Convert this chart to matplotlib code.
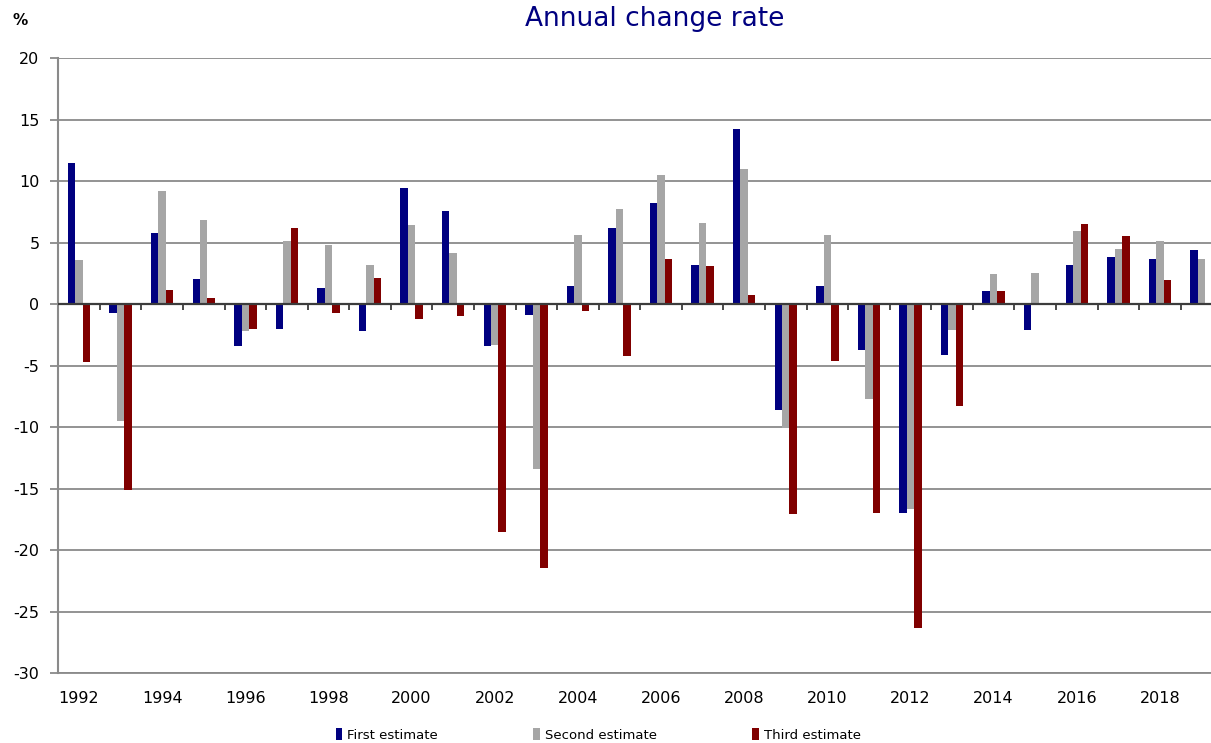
import matplotlib
matplotlib.use('Agg')
import matplotlib.pyplot as plt
import numpy as np

# valores (tasa de cambio anual, %)
years = list(range(1992, 2020))
first_est = [11.5, -0.7, 5.8, 2.05, -3.45, -2.05, 1.3, -2.2, 9.45, 7.6,
             -3.45, -0.9, 1.45, 6.2, 8.25, 3.15, 14.2, -8.6, 1.45, -3.75,
             -17.0, -4.15, 1.05, -2.1, 3.15, 3.8, 3.7, 4.4]
second_est = [3.6, -9.55, 9.15, 6.85, -2.2, 5.1, 4.8, 3.15, 6.4, 4.15,
              -3.35, -13.4, 5.6, 7.75, 10.5, 6.6, 10.95, -10.05, 5.6, -7.7,
              -16.7, -2.1, 2.45, 2.55, 5.9, 4.5, 5.1, 3.7]
third_est = [-4.75, -15.15, 1.15, 0.5, -2.0, 6.2, -0.7, 2.15, -1.2, -1.0,
             -18.5, -21.5, -0.55, -4.25, 3.65, 3.1, 0.75, -17.1, -4.65, -17.0,
             -26.35, -8.3, 1.05, 0.1, 6.5, 5.5, 1.95, 0.0]
year_labels = [str(y) for y in range(1992, 2019, 2)]

C_FIRST = '#000080'
C_SECOND = '#a6a6a6'
C_THIRD = '#800000'
GRID = '#8a8a8a'

plt.rcParams['axes.unicode_minus'] = False  # guion normal en los negativos

fig = plt.figure(figsize=(12.11, 7.43), dpi=100)
# el area del grafico se sale un poco por la derecha como en la imagen original
ax = fig.add_axes([0.0481, 0.0942, 0.9612, 0.8277])

x = np.array(years)
w = 0.18
ax.bar(x - w, first_est, w, color=C_FIRST, label='First estimate', zorder=3)
ax.bar(x, second_est, w, color=C_SECOND, label='Second estimate', zorder=3)
ax.bar(x + w, third_est, w, color=C_THIRD, label='Third estimate', zorder=3)

ax.set_xlim(years[0] - 0.5, years[-1] + 0.5)
ax.set_ylim(-30, 20)
ax.set_yticks(range(-30, 21, 5))
ax.yaxis.grid(True, color=GRID, linewidth=1.3, zorder=0)

# linea del cero con marcas entre grupos
ax.axhline(0, color='#3c3c3c', linewidth=1.6, zorder=4)
bounds = np.array(years[1:]) - 0.5
ax.vlines(bounds, -0.5, 0, color='#3c3c3c', linewidth=1.3, zorder=4)

ax.set_xticks(range(1992, 2019, 2))
ax.set_xticklabels(year_labels)
ax.tick_params(axis='x', length=0, pad=13, labelsize=11.5)
ax.tick_params(axis='y', length=6, width=1.3, color=GRID, pad=7.5, labelsize=11.5)

for s in ['top', 'right']:
    ax.spines[s].set_visible(False)
ax.spines['left'].set_color(GRID)
ax.spines['left'].set_linewidth(1.5)
ax.spines['bottom'].set_color(GRID)
ax.spines['bottom'].set_linewidth(1.3)

fig.text(0.541, 0.975, 'Annual change rate', color='#000080', fontsize=19,
         ha='center', va='center')
fig.text(0.017, 0.972, '%', fontsize=11, fontweight='bold', ha='center', va='center')

fig.legend(loc='center', bbox_to_anchor=(0.494, 0.011), ncol=3, frameon=False,
           fontsize=9.5, handlelength=0.5, handleheight=1.0, handletextpad=0.4,
           columnspacing=7.2)

fig.savefig('out.png', dpi=100)
